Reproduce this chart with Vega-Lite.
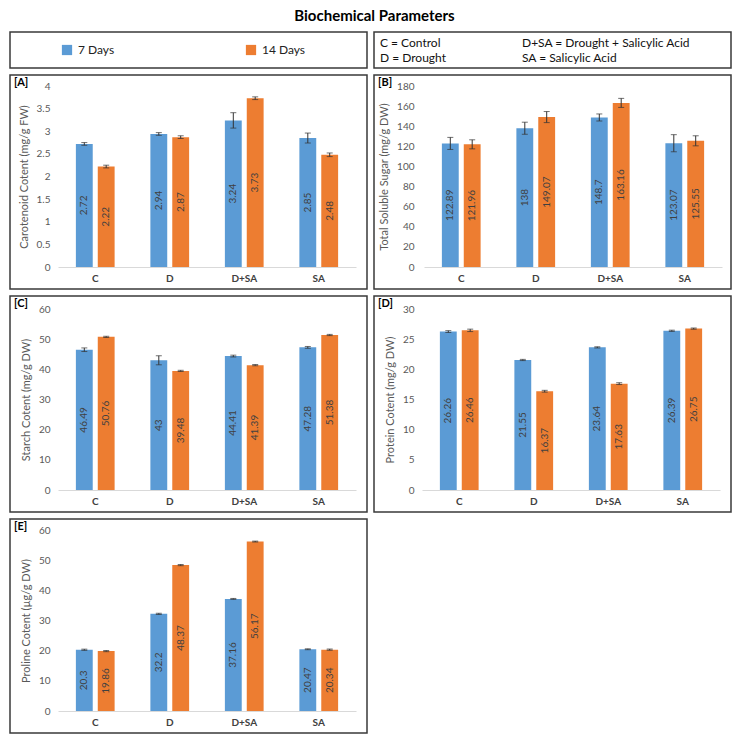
{
  "$schema": "https://vega.github.io/schema/vega-lite/v6.json",
  "padding": {"left": 9, "top": 9, "right": 0, "bottom": 0},
  "title": {"text": "Biochemical Parameters", "fontSize": 15, "fontWeight": "bold", "anchor": "middle", "offset": 7, "color": "#000000"},
  "config": {
    "font": "Lato",
    "view": {"stroke": "#3a3a3a", "strokeWidth": 1.5},
    "axisX": {"title": null, "domainColor": "#d9d9d9", "ticks": false, "tickSize": 0, "labelPadding": 6, "labelFontSize": 10, "labelFontWeight": "bold", "labelColor": "#404040", "labelAngle": 0, "offset": -22, "grid": false},
    "axisY": {"domain": false, "ticks": false, "tickSize": 0, "labelPadding": 4, "labelFontSize": 10, "labelColor": "#595959", "labelOverlap": false, "labelBound": false, "titleFontSize": 11, "titleFontWeight": "normal", "titleColor": "#595959", "titlePadding": 7, "offset": -44, "grid": false, "format": "~r"},
    "title": {"fontSize": 11, "fontWeight": "bold", "anchor": "start", "offset": -13, "dx": 4, "color": "#000000"}
  },
  "datasets": {
    "A": [
      {"cat": "C", "series": "7 Days", "value": 2.72, "lo": 2.69, "hi": 2.75},
      {"cat": "C", "series": "14 Days", "value": 2.22, "lo": 2.19, "hi": 2.25},
      {"cat": "D", "series": "7 Days", "value": 2.94, "lo": 2.91, "hi": 2.97},
      {"cat": "D", "series": "14 Days", "value": 2.87, "lo": 2.84, "hi": 2.9},
      {"cat": "D+SA", "series": "7 Days", "value": 3.24, "lo": 3.07, "hi": 3.41},
      {"cat": "D+SA", "series": "14 Days", "value": 3.73, "lo": 3.7, "hi": 3.76},
      {"cat": "SA", "series": "7 Days", "value": 2.85, "lo": 2.74, "hi": 2.96},
      {"cat": "SA", "series": "14 Days", "value": 2.48, "lo": 2.44, "hi": 2.52}
    ],
    "B": [
      {"cat": "C", "series": "7 Days", "value": 122.89, "lo": 116.9, "hi": 128.9},
      {"cat": "C", "series": "14 Days", "value": 121.96, "lo": 117.5, "hi": 126.5},
      {"cat": "D", "series": "7 Days", "value": 138, "lo": 132, "hi": 144},
      {"cat": "D", "series": "14 Days", "value": 149.07, "lo": 143.6, "hi": 154.6},
      {"cat": "D+SA", "series": "7 Days", "value": 148.7, "lo": 145.2, "hi": 152.2},
      {"cat": "D+SA", "series": "14 Days", "value": 163.16, "lo": 158.7, "hi": 167.7},
      {"cat": "SA", "series": "7 Days", "value": 123.07, "lo": 114.6, "hi": 131.6},
      {"cat": "SA", "series": "14 Days", "value": 125.55, "lo": 120.5, "hi": 130.5}
    ],
    "C": [
      {"cat": "C", "series": "7 Days", "value": 46.49, "lo": 45.9, "hi": 47.1},
      {"cat": "C", "series": "14 Days", "value": 50.76, "lo": 50.56, "hi": 50.96},
      {"cat": "D", "series": "7 Days", "value": 43, "lo": 41.5, "hi": 44.5},
      {"cat": "D", "series": "14 Days", "value": 39.48, "lo": 39.28, "hi": 39.68},
      {"cat": "D+SA", "series": "7 Days", "value": 44.41, "lo": 44.1, "hi": 44.7},
      {"cat": "D+SA", "series": "14 Days", "value": 41.39, "lo": 41.19, "hi": 41.59},
      {"cat": "SA", "series": "7 Days", "value": 47.28, "lo": 46.98, "hi": 47.58},
      {"cat": "SA", "series": "14 Days", "value": 51.38, "lo": 51.18, "hi": 51.58}
    ],
    "D": [
      {"cat": "C", "series": "7 Days", "value": 26.26, "lo": 26.11, "hi": 26.41},
      {"cat": "C", "series": "14 Days", "value": 26.46, "lo": 26.26, "hi": 26.66},
      {"cat": "D", "series": "7 Days", "value": 21.55, "lo": 21.45, "hi": 21.65},
      {"cat": "D", "series": "14 Days", "value": 16.37, "lo": 16.22, "hi": 16.52},
      {"cat": "D+SA", "series": "7 Days", "value": 23.64, "lo": 23.54, "hi": 23.74},
      {"cat": "D+SA", "series": "14 Days", "value": 17.63, "lo": 17.48, "hi": 17.78},
      {"cat": "SA", "series": "7 Days", "value": 26.39, "lo": 26.29, "hi": 26.49},
      {"cat": "SA", "series": "14 Days", "value": 26.75, "lo": 26.65, "hi": 26.85}
    ],
    "E": [
      {"cat": "C", "series": "7 Days", "value": 20.3, "lo": 20.1, "hi": 20.5},
      {"cat": "C", "series": "14 Days", "value": 19.86, "lo": 19.66, "hi": 20.06},
      {"cat": "D", "series": "7 Days", "value": 32.2, "lo": 32.0, "hi": 32.4},
      {"cat": "D", "series": "14 Days", "value": 48.37, "lo": 48.17, "hi": 48.57},
      {"cat": "D+SA", "series": "7 Days", "value": 37.16, "lo": 37.01, "hi": 37.31},
      {"cat": "D+SA", "series": "14 Days", "value": 56.17, "lo": 56.02, "hi": 56.32},
      {"cat": "SA", "series": "7 Days", "value": 20.47, "lo": 20.32, "hi": 20.62},
      {"cat": "SA", "series": "14 Days", "value": 20.34, "lo": 20.14, "hi": 20.54}
    ]
  },
  "vconcat": [
    {
      "hconcat": [
        {
          "width": 357, "height": 36,
          "data": {"values": [{"series": "7 Days"}, {"series": "14 Days"}]},
          "encoding": {
            "x": {"field": "series", "type": "nominal", "sort": ["7 Days", "14 Days"], "scale": {"type": "point", "range": [57, 241], "padding": 0}, "axis": null}
          },
          "layer": [
            {"mark": {"type": "square", "size": 105, "opacity": 1, "filled": true},
             "encoding": {"color": {"field": "series", "type": "nominal", "scale": {"domain": ["7 Days", "14 Days"], "range": ["#5B9BD5", "#ED7D31"]}, "legend": null}}},
            {"mark": {"type": "text", "align": "left", "baseline": "middle", "dx": 11, "fontSize": 12, "color": "#222222"},
             "encoding": {"text": {"field": "series", "type": "nominal"}}}
          ]
        },
        {
          "width": 357, "height": 36,
          "data": {"values": [
            {"col": "a", "row": "1", "label": "C = Control"},
            {"col": "a", "row": "2", "label": "D = Drought"},
            {"col": "b", "row": "1", "label": "D+SA = Drought + Salicylic Acid"},
            {"col": "b", "row": "2", "label": "SA = Salicylic Acid"}
          ]},
          "mark": {"type": "text", "align": "left", "baseline": "middle", "fontSize": 12, "color": "#111111"},
          "encoding": {
            "x": {"field": "col", "type": "nominal", "scale": {"type": "point", "range": [6, 148], "padding": 0}, "axis": null},
            "y": {"field": "row", "type": "nominal", "scale": {"type": "point", "range": [11, 26], "padding": 0}, "axis": null},
            "text": {"field": "label", "type": "nominal"}
          }
        }
      ],
      "spacing": 5
    },
    {
      "hconcat": [
        {
          "width": 357, "height": 214,
          "title": "[A]",
          "data": {"name": "A"},
          "encoding": {
            "x": {"field": "cat", "type": "nominal", "sort": ["C", "D", "D+SA", "SA"], "scale": {"range": [48, 346], "paddingInner": 0.48, "paddingOuter": 0.24}},
            "xOffset": {"field": "series", "type": "nominal", "sort": ["7 Days", "14 Days"], "scale": {"paddingInner": 0.23}}
          },
          "layer": [
            {"mark": {"type": "bar"},
             "encoding": {
               "y": {"field": "value", "type": "quantitative", "title": "Carotenoid Cotent (mg/g FW)", "scale": {"domain": [0, 4], "range": [192, 11]}, "axis": {"values": [0, 0.5, 1, 1.5, 2, 2.5, 3, 3.5, 4], "tickCount": 9}},
               "color": {"field": "series", "type": "nominal", "scale": {"domain": ["7 Days", "14 Days"], "range": ["#5B9BD5", "#ED7D31"]}, "legend": null}}},
            {"mark": {"type": "rule", "color": "#333333", "strokeWidth": 1},
             "encoding": {"y": {"field": "lo", "type": "quantitative", "title": "Carotenoid Cotent (mg/g FW)", "axis": {"values": [0, 0.5, 1, 1.5, 2, 2.5, 3, 3.5, 4], "tickCount": 9}}, "y2": {"field": "hi"}}},
            {"mark": {"type": "tick", "orient": "horizontal", "size": 6, "thickness": 1, "color": "#333333"},
             "encoding": {"y": {"field": "lo", "type": "quantitative", "title": "Carotenoid Cotent (mg/g FW)", "axis": {"values": [0, 0.5, 1, 1.5, 2, 2.5, 3, 3.5, 4], "tickCount": 9}}}},
            {"mark": {"type": "tick", "orient": "horizontal", "size": 6, "thickness": 1, "color": "#333333"},
             "encoding": {"y": {"field": "hi", "type": "quantitative", "title": "Carotenoid Cotent (mg/g FW)", "axis": {"values": [0, 0.5, 1, 1.5, 2, 2.5, 3, 3.5, 4], "tickCount": 9}}}},
            {"transform": [{"calculate": "datum.value / 2", "as": "mid"}],
             "mark": {"type": "text", "angle": 270, "align": "center", "baseline": "middle", "fontSize": 10, "color": "#404040"},
             "encoding": {"y": {"field": "mid", "type": "quantitative", "title": "Carotenoid Cotent (mg/g FW)", "axis": {"values": [0, 0.5, 1, 1.5, 2, 2.5, 3, 3.5, 4], "tickCount": 9}}, "text": {"field": "value", "type": "nominal"}}}
          ]
        },
        {
          "width": 357, "height": 214,
          "title": "[B]",
          "data": {"name": "B"},
          "encoding": {
            "x": {"field": "cat", "type": "nominal", "sort": ["C", "D", "D+SA", "SA"], "scale": {"range": [50, 348], "paddingInner": 0.48, "paddingOuter": 0.24}},
            "xOffset": {"field": "series", "type": "nominal", "sort": ["7 Days", "14 Days"], "scale": {"paddingInner": 0.23}}
          },
          "layer": [
            {"mark": {"type": "bar"},
             "encoding": {
               "y": {"field": "value", "type": "quantitative", "title": "Total Soluble Sugar (mg/g DW)", "scale": {"domain": [0, 180], "range": [192, 11]}, "axis": {"values": [0, 20, 40, 60, 80, 100, 120, 140, 160, 180], "tickCount": 10}},
               "color": {"field": "series", "type": "nominal", "scale": {"domain": ["7 Days", "14 Days"], "range": ["#5B9BD5", "#ED7D31"]}, "legend": null}}},
            {"mark": {"type": "rule", "color": "#333333", "strokeWidth": 1},
             "encoding": {"y": {"field": "lo", "type": "quantitative", "title": "Total Soluble Sugar (mg/g DW)", "axis": {"values": [0, 20, 40, 60, 80, 100, 120, 140, 160, 180], "tickCount": 10}}, "y2": {"field": "hi"}}},
            {"mark": {"type": "tick", "orient": "horizontal", "size": 6, "thickness": 1, "color": "#333333"},
             "encoding": {"y": {"field": "lo", "type": "quantitative", "title": "Total Soluble Sugar (mg/g DW)", "axis": {"values": [0, 20, 40, 60, 80, 100, 120, 140, 160, 180], "tickCount": 10}}}},
            {"mark": {"type": "tick", "orient": "horizontal", "size": 6, "thickness": 1, "color": "#333333"},
             "encoding": {"y": {"field": "hi", "type": "quantitative", "title": "Total Soluble Sugar (mg/g DW)", "axis": {"values": [0, 20, 40, 60, 80, 100, 120, 140, 160, 180], "tickCount": 10}}}},
            {"transform": [{"calculate": "datum.value / 2", "as": "mid"}],
             "mark": {"type": "text", "angle": 270, "align": "center", "baseline": "middle", "fontSize": 10, "color": "#404040"},
             "encoding": {"y": {"field": "mid", "type": "quantitative", "title": "Total Soluble Sugar (mg/g DW)", "axis": {"values": [0, 20, 40, 60, 80, 100, 120, 140, 160, 180], "tickCount": 10}}, "text": {"field": "value", "type": "nominal"}}}
          ]
        }
      ],
      "spacing": 5
    },
    {
      "hconcat": [
        {
          "width": 357, "height": 216,
          "title": "[C]",
          "data": {"name": "C"},
          "encoding": {
            "x": {"field": "cat", "type": "nominal", "sort": ["C", "D", "D+SA", "SA"], "scale": {"range": [48, 346], "paddingInner": 0.48, "paddingOuter": 0.24}},
            "xOffset": {"field": "series", "type": "nominal", "sort": ["7 Days", "14 Days"], "scale": {"paddingInner": 0.23}}
          },
          "layer": [
            {"mark": {"type": "bar"},
             "encoding": {
               "y": {"field": "value", "type": "quantitative", "title": "Starch Cotent (mg/g DW)", "scale": {"domain": [0, 60], "range": [194, 13]}, "axis": {"values": [0, 10, 20, 30, 40, 50, 60], "tickCount": 7}},
               "color": {"field": "series", "type": "nominal", "scale": {"domain": ["7 Days", "14 Days"], "range": ["#5B9BD5", "#ED7D31"]}, "legend": null}}},
            {"mark": {"type": "rule", "color": "#333333", "strokeWidth": 1},
             "encoding": {"y": {"field": "lo", "type": "quantitative", "title": "Starch Cotent (mg/g DW)", "axis": {"values": [0, 10, 20, 30, 40, 50, 60], "tickCount": 7}}, "y2": {"field": "hi"}}},
            {"mark": {"type": "tick", "orient": "horizontal", "size": 6, "thickness": 1, "color": "#333333"},
             "encoding": {"y": {"field": "lo", "type": "quantitative", "title": "Starch Cotent (mg/g DW)", "axis": {"values": [0, 10, 20, 30, 40, 50, 60], "tickCount": 7}}}},
            {"mark": {"type": "tick", "orient": "horizontal", "size": 6, "thickness": 1, "color": "#333333"},
             "encoding": {"y": {"field": "hi", "type": "quantitative", "title": "Starch Cotent (mg/g DW)", "axis": {"values": [0, 10, 20, 30, 40, 50, 60], "tickCount": 7}}}},
            {"transform": [{"calculate": "datum.value / 2", "as": "mid"}],
             "mark": {"type": "text", "angle": 270, "align": "center", "baseline": "middle", "fontSize": 10, "color": "#404040"},
             "encoding": {"y": {"field": "mid", "type": "quantitative", "title": "Starch Cotent (mg/g DW)", "axis": {"values": [0, 10, 20, 30, 40, 50, 60], "tickCount": 7}}, "text": {"field": "value", "type": "nominal"}}}
          ]
        },
        {
          "width": 357, "height": 216,
          "title": "[D]",
          "data": {"name": "D"},
          "encoding": {
            "x": {"field": "cat", "type": "nominal", "sort": ["C", "D", "D+SA", "SA"], "scale": {"range": [48, 346], "paddingInner": 0.48, "paddingOuter": 0.24}},
            "xOffset": {"field": "series", "type": "nominal", "sort": ["7 Days", "14 Days"], "scale": {"paddingInner": 0.23}}
          },
          "layer": [
            {"mark": {"type": "bar"},
             "encoding": {
               "y": {"field": "value", "type": "quantitative", "title": "Protein Cotent (mg/g DW)", "scale": {"domain": [0, 30], "range": [194, 13]}, "axis": {"values": [0, 5, 10, 15, 20, 25, 30], "tickCount": 7}},
               "color": {"field": "series", "type": "nominal", "scale": {"domain": ["7 Days", "14 Days"], "range": ["#5B9BD5", "#ED7D31"]}, "legend": null}}},
            {"mark": {"type": "rule", "color": "#333333", "strokeWidth": 1},
             "encoding": {"y": {"field": "lo", "type": "quantitative", "title": "Protein Cotent (mg/g DW)", "axis": {"values": [0, 5, 10, 15, 20, 25, 30], "tickCount": 7}}, "y2": {"field": "hi"}}},
            {"mark": {"type": "tick", "orient": "horizontal", "size": 6, "thickness": 1, "color": "#333333"},
             "encoding": {"y": {"field": "lo", "type": "quantitative", "title": "Protein Cotent (mg/g DW)", "axis": {"values": [0, 5, 10, 15, 20, 25, 30], "tickCount": 7}}}},
            {"mark": {"type": "tick", "orient": "horizontal", "size": 6, "thickness": 1, "color": "#333333"},
             "encoding": {"y": {"field": "hi", "type": "quantitative", "title": "Protein Cotent (mg/g DW)", "axis": {"values": [0, 5, 10, 15, 20, 25, 30], "tickCount": 7}}}},
            {"transform": [{"calculate": "datum.value / 2", "as": "mid"}],
             "mark": {"type": "text", "angle": 270, "align": "center", "baseline": "middle", "fontSize": 10, "color": "#404040"},
             "encoding": {"y": {"field": "mid", "type": "quantitative", "title": "Protein Cotent (mg/g DW)", "axis": {"values": [0, 5, 10, 15, 20, 25, 30], "tickCount": 7}}, "text": {"field": "value", "type": "nominal"}}}
          ]
        }
      ],
      "spacing": 5
    },
    {
      "hconcat": [
        {
          "width": 357, "height": 214,
          "title": "[E]",
          "data": {"name": "E"},
          "encoding": {
            "x": {"field": "cat", "type": "nominal", "sort": ["C", "D", "D+SA", "SA"], "scale": {"range": [48, 346], "paddingInner": 0.48, "paddingOuter": 0.24}},
            "xOffset": {"field": "series", "type": "nominal", "sort": ["7 Days", "14 Days"], "scale": {"paddingInner": 0.23}}
          },
          "layer": [
            {"mark": {"type": "bar"},
             "encoding": {
               "y": {"field": "value", "type": "quantitative", "title": "Proline Cotent (µg/g DW)", "scale": {"domain": [0, 60], "range": [192, 11]}, "axis": {"values": [0, 10, 20, 30, 40, 50, 60], "tickCount": 7}},
               "color": {"field": "series", "type": "nominal", "scale": {"domain": ["7 Days", "14 Days"], "range": ["#5B9BD5", "#ED7D31"]}, "legend": null}}},
            {"mark": {"type": "rule", "color": "#333333", "strokeWidth": 1},
             "encoding": {"y": {"field": "lo", "type": "quantitative", "title": "Proline Cotent (µg/g DW)", "axis": {"values": [0, 10, 20, 30, 40, 50, 60], "tickCount": 7}}, "y2": {"field": "hi"}}},
            {"mark": {"type": "tick", "orient": "horizontal", "size": 6, "thickness": 1, "color": "#333333"},
             "encoding": {"y": {"field": "lo", "type": "quantitative", "title": "Proline Cotent (µg/g DW)", "axis": {"values": [0, 10, 20, 30, 40, 50, 60], "tickCount": 7}}}},
            {"mark": {"type": "tick", "orient": "horizontal", "size": 6, "thickness": 1, "color": "#333333"},
             "encoding": {"y": {"field": "hi", "type": "quantitative", "title": "Proline Cotent (µg/g DW)", "axis": {"values": [0, 10, 20, 30, 40, 50, 60], "tickCount": 7}}}},
            {"transform": [{"calculate": "datum.value / 2", "as": "mid"}],
             "mark": {"type": "text", "angle": 270, "align": "center", "baseline": "middle", "fontSize": 10, "color": "#404040"},
             "encoding": {"y": {"field": "mid", "type": "quantitative", "title": "Proline Cotent (µg/g DW)", "axis": {"values": [0, 10, 20, 30, 40, 50, 60], "tickCount": 7}}, "text": {"field": "value", "type": "nominal"}}}
          ]
        }
      ],
      "spacing": 5
    }
  ],
  "spacing": 5
}
